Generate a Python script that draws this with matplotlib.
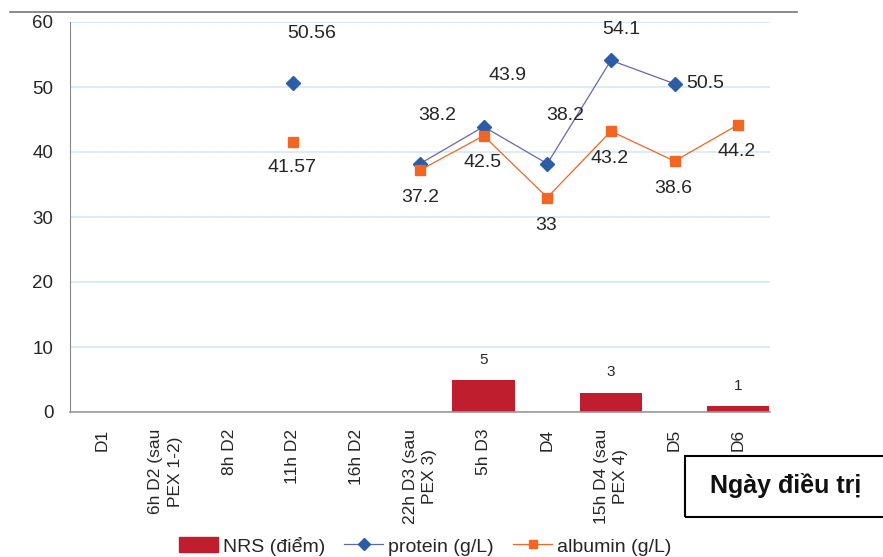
import numpy as np
import matplotlib
matplotlib.use("Agg")
import matplotlib.pyplot as plt
from matplotlib.patches import Rectangle
from matplotlib.lines import Line2D

plt.rcParams['font.family'] = ['Liberation Sans', 'DejaVu Sans']

categories = ['D1', '6h D2 (sau\nPEX 1-2)', '8h D2', '11h D2', '16h D2',
              '22h D3 (sau\nPEX 3)', '5h D3', 'D4', '15h D4 (sau\nPEX 4)', 'D5', 'D6']
nrs = [0, 0, 0, 0, 0, 0, 5, 0, 3, 0, 1]
protein = [np.nan, np.nan, np.nan, 50.56, np.nan, 38.2, 43.9, 38.2, 54.1, 50.5, np.nan]
albumin = [np.nan, np.nan, np.nan, 41.57, np.nan, 37.2, 42.5, 33, 43.2, 38.6, 44.2]
yticks = [0, 10, 20, 30, 40, 50, 60]

# label offsets in pixels (dx, dy)
protein_off = {3: (19, 50), 5: (17, 48), 6: (24, 51), 7: (18, 48), 8: (10, 31), 9: (31, 0)}
albumin_off = {3: (-1, -26), 5: (0, -27), 6: (-1, -27), 7: (-1, -28), 8: (-1, -27), 9: (-1, -27), 10: (-2, -27)}

fig = plt.figure(figsize=(8.83, 5.57), dpi=100)
ax = fig.add_axes([70/883, 1-412/557, 700/883, 390/557])

x = np.arange(len(categories))
bar_col = '#BE1E2D'
prot_line = '#6667AD'
prot_mark = '#2D5CA6'
alb_col = '#F26522'
txt_col = '#262626'

ax.bar(x, nrs, width=0.98, color=bar_col, zorder=2)
for i, v in enumerate(nrs):
    if v > 0:
        ax.annotate(str(v), (x[i], v), xytext=(0, 20), textcoords='offset pixels',
                    ha='center', va='center', fontsize=11, color=txt_col)

ax.plot(x, protein, '-', color=prot_line, lw=0.9, zorder=3)
ax.plot(x, protein, 'D', color=prot_mark, ms=7, zorder=4, ls='none')
ax.plot(x, albumin, '-', color=alb_col, lw=0.9, zorder=3)
ax.plot(x, albumin, 's', color=alb_col, ms=6.5, zorder=4, ls='none')

for i, (dx, dy) in protein_off.items():
    ax.annotate(f"{protein[i]:g}", (x[i], protein[i]), xytext=(dx, dy),
                textcoords='offset pixels', ha='center', va='center',
                fontsize=14, color=txt_col)
for i, (dx, dy) in albumin_off.items():
    ax.annotate(f"{albumin[i]:g}", (x[i], albumin[i]), xytext=(dx, dy),
                textcoords='offset pixels', ha='center', va='center',
                fontsize=14, color=txt_col)

ax.set_xlim(-0.5, len(categories) - 0.5)
ax.set_ylim(0, 60)
ax.set_yticks(yticks)
ax.set_xticks(x)
ax.set_xticklabels(categories, rotation=90, fontsize=12.5, ha='center', va='top',
                   multialignment='center', color=txt_col, linespacing=1.35)
ax.tick_params(axis='y', labelsize=13.5, length=0, pad=12, labelcolor=txt_col)
ax.tick_params(axis='x', length=0, pad=12)
ax.grid(axis='y', color='#D5E9F3', lw=1.2, zorder=0)
ax.set_axisbelow(True)
for s in ['top', 'right']:
    ax.spines[s].set_visible(False)
ax.spines['left'].set_color('#888888')
ax.spines['bottom'].set_color('#999999')
ax.spines['bottom'].set_linewidth(1.2)

# top rule
fig.add_artist(Line2D([10/883, 797/883], [1-12/557, 1-12/557], color='#777777', lw=1.2))

# legend
handles = [Rectangle((0, 0), 1, 1, color=bar_col),
           Line2D([], [], color=prot_line, lw=0.9, marker='D', mfc=prot_mark, mec=prot_mark, ms=6),
           Line2D([], [], color=alb_col, lw=0.9, marker='s', ms=6)]
fig.legend(handles, ['NRS (điểm)', 'protein (g/L)', 'albumin (g/L)'], loc='center',
           bbox_to_anchor=(425/883, 1-546/557), ncol=3, frameon=False, fontsize=14,
           handlelength=2.0, handleheight=0.8, columnspacing=1.0, handletextpad=0.25,
           labelcolor=txt_col)

# "Ngày điều trị" box
fig.add_artist(Rectangle((685/883, 1-517/557), 210/883, 61/557, transform=fig.transFigure,
                         fill=False, ec='black', lw=1.5, clip_on=False))
fig.text(786/883, 1-485/557, 'Ngày điều trị', ha='center', va='center',
         fontsize=18, fontweight='bold', color='#111111')

fig.savefig('out.png', dpi=100)
